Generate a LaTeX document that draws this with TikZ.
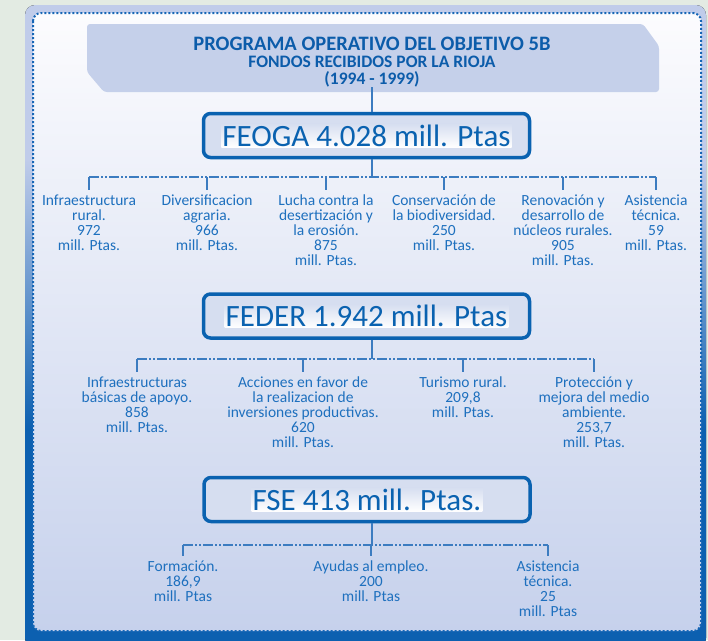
\documentclass[tikz,border=0pt]{standalone}
\usepackage{fontspec}
\setmainfont{Carlito}
\usetikzlibrary{calc}

\definecolor{fondo}{RGB}{227,235,227}
\definecolor{marcoclaro}{RGB}{192,204,234}
\definecolor{marcoscuro}{RGB}{12,96,176}
\definecolor{puntos}{RGB}{22,102,182}
\definecolor{panelarriba}{RGB}{252,252,254}
\definecolor{panelabajo}{RGB}{198,209,236}
\definecolor{banda}{RGB}{197,208,234}
\definecolor{azulcaja}{RGB}{10,98,176}
\definecolor{rellenocaja}{RGB}{214,222,240}
\definecolor{azultexto}{RGB}{30,112,190}
\definecolor{azultitulo}{RGB}{12,92,170}
\definecolor{azullinea}{RGB}{60,124,192}

\pgfdeclareverticalshading{marco}{100bp}{color(0bp)=(marcoscuro); color(42bp)=(marcoscuro); color(63bp)=(marcoclaro); color(100bp)=(marcoclaro)}

\begin{document}
\begin{tikzpicture}[x=1pt, y=-1pt,
  fondocaja/.style={draw=azulcaja, line width=3.5, rounded corners=7, fill=rellenocaja, minimum width=326, minimum height=44, inner sep=0},
  textocaja/.style={top color=rellenocaja, bottom color=white, inner sep=1, text=azulcaja, font=\fontsize{31}{31}\selectfont},
  hijo/.style={align=center, anchor=north, inner sep=0, outer ysep=5, text=azultexto, font=\fontsize{15.5}{15}\selectfont},
  tallo/.style={draw=azullinea, line width=1.2},
  barra/.style={draw=azullinea, line width=2.2, dash pattern=on 10pt off 2pt on 2pt off 2pt on 2pt off 2pt}]

\useasboundingbox (0,0) rectangle (708,640);
\fill[fondo] (0,0) rectangle (708,640);

% marco y panel
\fill[shading=marco, rounded corners=10] (25,5) rectangle (706,648);
\shade[top color=panelarriba, bottom color=panelabajo, rounded corners=8] (33,13) rectangle (701,631);
\draw[puntos, line width=2, dash pattern=on 2pt off 2pt, rounded corners=8] (33,13) rectangle (701,631);

% cabecera
\fill[banda, rounded corners=3] (87,24) -- (643,24) -- (659,46) -- (659,92) -- (104,92) -- (87,72) -- cycle;
\node[align=center, inner sep=0, text=azultitulo, font=\bfseries\fontsize{17.5}{17}\selectfont] (titulo) at (372,62)
  {{\fontsize{20.5}{17}\selectfont PROGRAMA OPERATIVO DEL OBJETIVO 5B}\\FONDOS RECIBIDOS POR LA RIOJA\\(1994 - 1999)};
\coordinate (eje) at (372,0);

% FEOGA
\node[fondocaja] (feoga) at (366.5,135.5) {};
\node[textocaja] (feogatxt) at (feoga) {FEOGA 4.028 mill. Ptas};
\coordinate (barrafeoga) at (372,177);

\node[hijo] (fg1) at (89,190) {Infraestructura\\rural.\\972\\mill. Ptas.};
\node[hijo] (fg2) at (207,190) {Diversificacion\\agraria.\\966\\mill. Ptas.};
\node[hijo] (fg3) at (326,190) {Lucha contra la\\desertización y\\la erosión.\\875\\mill. Ptas.};
\node[hijo] (fg4) at (444,190) {Conservación de\\la biodiversidad.\\250\\mill. Ptas.};
\node[hijo] (fg5) at (563,190) {Renovación y\\desarrollo de\\núcleos rurales.\\905\\mill. Ptas.};
\node[hijo] (fg6) at (656,190) {Asistencia\\técnica.\\59\\mill. Ptas.};

% FEDER
\node[fondocaja] (feder) at (366.5,316) {};
\node[textocaja] (federtxt) at (feder) {FEDER 1.942 mill. Ptas};
\coordinate (barrafeder) at (372,359);

\node[hijo] (fd1) at (137,372) {Infraestructuras\\básicas de apoyo.\\858\\mill. Ptas.};
\node[hijo] (fd2) at (303,372) {Acciones en favor de\\la realizacion de\\inversiones productivas.\\620\\mill. Ptas.};
\node[hijo] (fd3) at (463,372) {Turismo rural.\\209,8\\mill. Ptas.};
\node[hijo] (fd4) at (594,372) {Protección y\\mejora del medio\\ambiente.\\253,7\\mill. Ptas.};

% FSE
\node[fondocaja] (fse) at (367,499.5) {};
\node[textocaja] (fsetxt) at (fse) {FSE 413 mill. Ptas.};
\coordinate (barrafse) at (372,545);

\node[hijo] (fs1) at (183,556) {Formación.\\186,9\\mill. Ptas};
\node[hijo] (fs2) at (371,556) {Ayudas al empleo.\\200\\mill. Ptas};
\node[hijo] (fs3) at (548,556) {Asistencia\\técnica.\\25\\mill. Ptas};

% Lineas
\draw[tallo] (titulo.south) -- (eje |- feoga.north);
\draw[tallo] (eje |- feoga.south) -- (barrafeoga);
\draw[barra] (fg1.north |- barrafeoga) -- (fg6.north |- barrafeoga);
\draw[tallo] (fg1.north |- barrafeoga) -- (fg1.north);
\draw[tallo] (fg2.north |- barrafeoga) -- (fg2.north);
\draw[tallo] (fg3.north |- barrafeoga) -- (fg3.north);
\draw[tallo] (fg4.north |- barrafeoga) -- (fg4.north);
\draw[tallo] (fg5.north |- barrafeoga) -- (fg5.north);
\draw[tallo] (fg6.north |- barrafeoga) -- (fg6.north);

\draw[tallo] (eje |- feder.south) -- (barrafeder);
\draw[barra] (fd1.north |- barrafeder) -- (fd4.north |- barrafeder);
\draw[tallo] (fd1.north |- barrafeder) -- (fd1.north);
\draw[tallo] (fd2.north |- barrafeder) -- (fd2.north);
\draw[tallo] (fd3.north |- barrafeder) -- (fd3.north);
\draw[tallo] (fd4.north |- barrafeder) -- (fd4.north);

\draw[tallo] (eje |- fse.south) -- (barrafse);
\draw[barra] (fs1.north |- barrafse) -- (fs3.north |- barrafse);
\draw[tallo] (fs1.north |- barrafse) -- (fs1.north);
\draw[tallo] (fs2.north |- barrafse) -- (fs2.north);
\draw[tallo] (fs3.north |- barrafse) -- (fs3.north);

\end{tikzpicture}
\end{document}
